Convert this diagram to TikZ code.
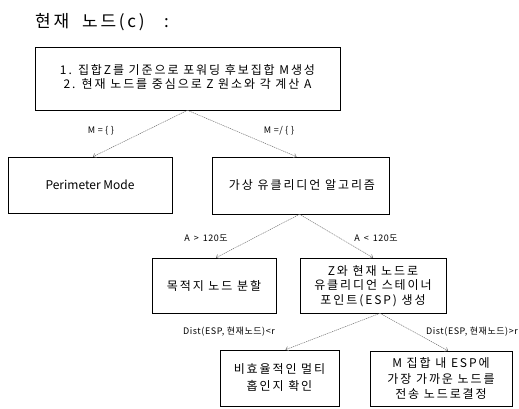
\documentclass[tikz,border=0pt]{standalone}
\usepackage{fontspec}
\setmainfont[LetterSpace=16]{Noto Sans CJK KR}
\newfontfamily\latinfont{Noto Sans CJK KR}
\newfontfamily\lblfont[LetterSpace=6]{Noto Sans CJK KR}
\usetikzlibrary{arrows.meta}
\tikzset{
  boxshape/.style={draw=black, line width=0.6pt, inner sep=0pt},
  boxtext/.style={align=center, inner sep=0pt, font=\fontsize{12}{14.5}\selectfont},
  conn/.style={draw=black!55, line width=0.5pt, dash pattern=on 1.2pt off 0.8pt,
    -{Straight Barb[length=2.5pt,width=4.5pt]}},
  lbl/.style={font=\lblfont\fontsize{9}{10}\selectfont, inner sep=0pt}
}
\begin{document}
\begin{tikzpicture}[x=1pt,y=-1pt]
\useasboundingbox (0,0) rectangle (519,409);
\node[anchor=west, inner sep=0pt, font=\fontsize{17}{20}\selectfont] (title) at (35,22) {현재\ \ 노드(c)\ \ \ :};
% top box
\node[boxshape, minimum width=305pt, minimum height=63pt] (top) at (187.5,78.5) {};
\node[boxtext] (toptext) at (187.5,77) {1. 집합Z를 기준으로 포워딩 후보집합 M생성\\2. 현재 노드를 중심으로 Z 원소와 각 계산 A};
% second row
\node[boxshape, minimum width=164pt, minimum height=56pt] (perim) at (90,185) {};
\node[boxtext, font=\latinfont\fontsize{12}{14}\selectfont] (perimtext) at (90,185) {Perimeter Mode};
\node[boxshape, minimum width=177pt, minimum height=57pt] (virt) at (300.5,185.5) {};
\node[boxtext] (virttext) at (302,185) {가상 유클리디언 알고리즘};
% third row
\node[boxshape, minimum width=124pt, minimum height=55pt] (dest) at (214,285.5) {};
\node[boxtext] (desttext) at (214,286) {목적지 노드 분할};
\node[boxshape, minimum width=146pt, minimum height=55pt] (esp) at (373,285.5) {};
\node[boxtext] (esptext) at (373,286) {Z와 현재 노드로\\유클리디언 스테이너\\포인트(ESP) 생성};
% bottom row
\node[boxshape, minimum width=119pt, minimum height=56pt] (bl) at (279.5,378) {};
\node[boxtext, font=\fontsize{12}{17}\selectfont] (bltext) at (279.5,378) {비효율적인 멀티\\홉인지 확인};
\node[boxshape, minimum width=142pt, minimum height=55pt] (br) at (441,378.5) {};
\node[boxtext, font=\fontsize{12}{15.5}\selectfont] (brtext) at (441,378.5) {M 집합 내 ESP에\\가장 가까운 노드를\\전송 노드로결정};
% connectors
\draw[conn] (top.south) -- ([xshift=3pt]perim.north);
\draw[conn] (top.south) -- ([xshift=-4pt]virt.north);
\draw[conn] ([xshift=-1pt]virt.south) -- ([xshift=2pt]dest.north);
\draw[conn] ([xshift=-1pt]virt.south) -- (esp.north);
\draw[conn] ([xshift=7pt]esp.south) -- ([xshift=6pt]bl.north);
\draw[conn] ([xshift=7pt]esp.south) -- ([xshift=7pt]br.north);
% labels
\node[lbl] (l1) at (101,131) {M = \{ \}};
\node[lbl] (l2) at (279,131) {M =/ \{ \}};
\node[lbl] (l3) at (206,238) {A\, >\, 120도};
\node[lbl] (l4) at (376,238) {A\, <\, 120도};
\node[lbl] (l5) at (229,332) {Dist(ESP, 현재노드)<r};
\node[lbl, anchor=east] (l6) at (518,332) {Dist(ESP, 현재노드)>r};
\end{tikzpicture}
\end{document}
